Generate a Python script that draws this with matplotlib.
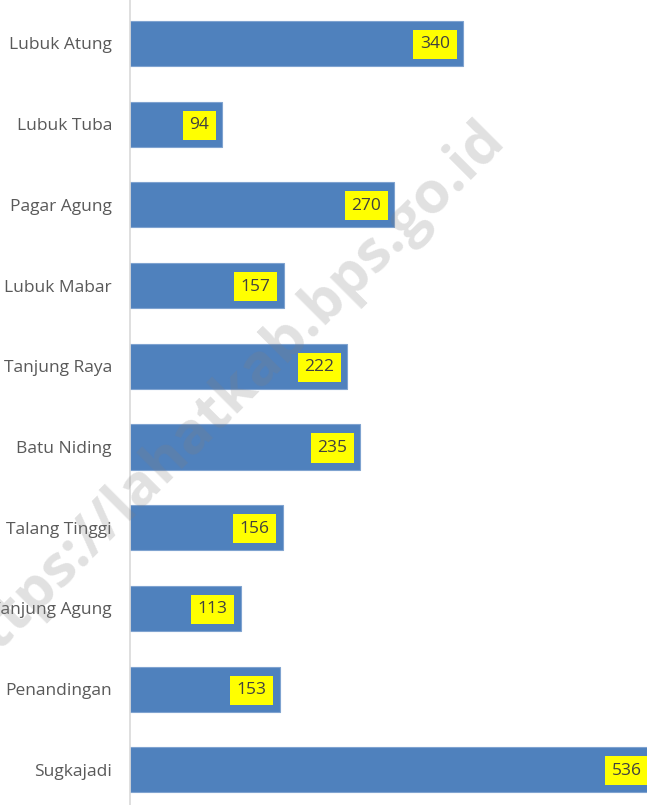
import matplotlib
matplotlib.use("Agg")
import matplotlib.pyplot as plt

categories = ["Lubuk Atung", "Lubuk Tuba", "Pagar Agung", "Lubuk Mabar", "Tanjung Raya",
              "Batu Niding", "Talang Tinggi", "Tanjung Agung", "Penandingan", "Sugkajadi"]
values = [340, 94, 270, 157, 222, 235, 156, 113, 153, 536]

plt.rcParams['font.family'] = ['Open Sans', 'DejaVu Sans']

W, H = 647, 805
fig = plt.figure(figsize=(W / 100, H / 100), dpi=100)
ax = fig.add_axes([130 / W, 0, 517 / W, 1])

pos = list(range(len(categories)))
ax.barh(pos, values, height=0.56, color="#4F81BD", edgecolor="#7FA3D0", linewidth=0.8, zorder=2)
ax.set_ylim(9.436, -0.539)
ax.set_xlim(0, 528)

ax.set_yticks(pos)
ax.set_yticklabels(categories, fontsize=12.5, color="#595959")
ax.tick_params(axis="y", length=0, pad=13)
ax.set_xticks([])
for s in ["top", "right", "bottom"]:
    ax.spines[s].set_visible(False)
ax.spines["left"].set_color("#D9D9D9")
ax.spines["left"].set_linewidth(1.2)

for p, v in zip(pos, values):
    ax.annotate(str(v), xy=(v, p), xytext=(-13, -1), textcoords="offset pixels",
                ha="right", va="center", fontsize=12.5, color="#404040", zorder=4,
                bbox=dict(boxstyle="square,pad=0.38", fc="#FFFF00", ec="none"),
                annotation_clip=False)

fig.text(228 / W, 1 - 398 / H, "https://lahatkab.bps.go.id", rotation=45,
         fontsize=42, fontweight="bold", color="#808080", alpha=0.24,
         ha="center", va="center", rotation_mode="anchor", zorder=10,
         family=["Open Sans", "DejaVu Sans"])

fig.savefig("out.png", dpi=100)
